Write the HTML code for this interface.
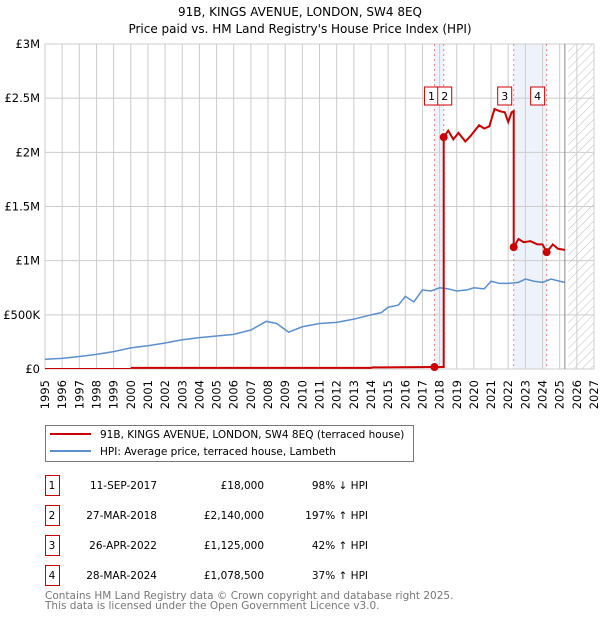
<!DOCTYPE html>
<html><head><meta charset="utf-8"><style>
body{margin:0;background:#fff;font-family:"DejaVu Sans","Liberation Sans",sans-serif;}
svg text{font-family:"DejaVu Sans","Liberation Sans",sans-serif;}
</style></head><body>
<svg id="c" width="600" height="620" xmlns="http://www.w3.org/2000/svg">
<defs><pattern id="hatch" width="6" height="6" patternUnits="userSpaceOnUse" patternTransform="rotate(45)"><line x1="0" y1="0" x2="0" y2="6" stroke="#bbb" stroke-width="1"/></pattern></defs>
<text x="300" y="16" text-anchor="middle" font-size="12">91B, KINGS AVENUE, LONDON, SW4 8EQ</text>
<text x="300" y="33" text-anchor="middle" font-size="12">Price paid vs. HM Land Registry's House Price Index (HPI)</text>
<g id="plot"></g>
<g>
<rect x="45.5" y="425.5" width="368" height="36" fill="#fff" stroke="#777"/>
<line x1="50" y1="434" x2="91" y2="434" stroke="#cc0000" stroke-width="2"/>
<text x="100" y="438" font-size="10.5">91B, KINGS AVENUE, LONDON, SW4 8EQ (terraced house)</text>
<line x1="50" y1="451" x2="91" y2="451" stroke="#5b8fd0" stroke-width="2"/>
<text x="100" y="455" font-size="10.5">HPI: Average price, terraced house, Lambeth</text>
</g>
<g id="table" font-size="10.5"></g>
<text x="45" y="599" font-size="10.5" fill="#777">Contains HM Land Registry data © Crown copyright and database right 2025.</text>
<text x="45" y="609" font-size="10.5" fill="#777">This data is licensed under the Open Government Licence v3.0.</text>
</svg>
<script>
const yearTicks=[1995,1996,1997,1998,1999,2000,2001,2002,2003,2004,2005,2006,2007,2008,2009,2010,2011,2012,2013,2014,2015,2016,2017,2018,2019,2020,2021,2022,2023,2024,2025,2026,2027];
const valueTicks=[0,500000,1000000,1500000,2000000,2500000,3000000];
const valueLabels=["£0","£500K","£1M","£1.5M","£2M","£2.5M","£3M"];
const hpiYears=[1995,1996,1997,1998,1999,2000,2001,2002,2003,2004,2005,2006,2007,2007.9,2008.5,2009.2,2010,2011,2012,2013,2014,2014.6,2015,2015.6,2016,2016.5,2017,2017.5,2018,2018.5,2019,2019.6,2020,2020.6,2021,2021.5,2022,2022.6,2023,2023.5,2024,2024.5,2025,2025.3];
const hpiValues=[90000,98000,115000,135000,160000,195000,215000,240000,270000,290000,305000,320000,360000,440000,420000,340000,390000,420000,430000,460000,500000,520000,570000,590000,670000,620000,730000,720000,750000,740000,720000,730000,750000,740000,810000,790000,790000,800000,830000,810000,800000,830000,810000,800000];
const propYears=[2000,2014,2014.1,2017.7,2018.24,2018.24,2018.5,2018.8,2019.1,2019.5,2019.8,2020.3,2020.6,2020.9,2021.2,2021.5,2021.8,2022.0,2022.2,2022.32,2022.32,2022.6,2022.9,2023.3,2023.7,2024.0,2024.24,2024.6,2024.9,2025.3];
const propValues=[10000,10000,15000,18000,18000,2140000,2200000,2120000,2180000,2100000,2150000,2250000,2220000,2240000,2400000,2380000,2370000,2280000,2370000,2380000,1125000,1200000,1170000,1180000,1150000,1150000,1078500,1150000,1110000,1100000];
const saleYears=[2017.70,2018.24,2022.32,2024.24];
const saleValues=[18000,2140000,1125000,1078500];
const saleLabels=["1","2","3","4"];
const saleDates=["11-SEP-2017","27-MAR-2018","26-APR-2022","28-MAR-2024"];
const salePrices=["£18,000","£2,140,000","£1,125,000","£1,078,500"];
const saleHpi=["98% ↓ HPI","197% ↑ HPI","42% ↑ HPI","37% ↑ HPI"];

const NS="http://www.w3.org/2000/svg";
const X0=45,X1=594,Y0=369,Y1=44;
const xs=y=>X0+(y-1995)/(2027-1995)*(X1-X0);
const ys=v=>Y0-v/3000000*(Y0-Y1);
const plot=document.getElementById('plot');
function mk(tag,attrs,parent){const e=document.createElementNS(NS,tag);for(const k in attrs)e.setAttribute(k,attrs[k]);(parent||plot).appendChild(e);return e;}
let r=mk('rect',{x:xs(saleYears[0]),y:Y1,width:xs(saleYears[1])-xs(saleYears[0]),height:Y0-Y1,fill:'#eef3fb'});


r=mk('rect',{x:xs(saleYears[2]),y:Y1,width:xs(saleYears[3])-xs(saleYears[2]),height:Y0-Y1,fill:'#eef3fb'});


r=mk('rect',{x:xs(2025.5),y:Y1,width:X1-xs(2025.5),height:Y0-Y1,fill:'url(#hatch)'});


yearTicks.forEach(t=>{const x=xs(t);
 const g=mk('line',{x1:x,y1:Y1,x2:x,y2:Y0,stroke:'#ccc','stroke-width':1});
 
 
 const tx=mk('text',{x:0,y:0,'text-anchor':'end','font-size':11.5,transform:'translate('+(x+4)+',380) rotate(-90)'});tx.textContent=t;
 
 
});
valueTicks.forEach((v,i)=>{const y=ys(v);
 const g=mk('line',{x1:X0,y1:y,x2:X1,y2:y,stroke:'#ccc','stroke-width':1});
 
 
 const tx=mk('text',{x:40,y:y+4,'text-anchor':'end','font-size':11.5});tx.textContent=valueLabels[i];
 
 
});
let b=mk('rect',{x:X0,y:Y1,width:X1-X0,height:Y0-Y1,fill:'none',stroke:'#ccc'});


let dl=mk('line',{x1:xs(2025.3),y1:Y1,x2:xs(2025.3),y2:Y0,stroke:'#888','stroke-width':1});


saleYears.forEach((s,i)=>{const v=mk('line',{x1:xs(s),y1:Y1,x2:xs(s),y2:Y0,stroke:'#f08080','stroke-dasharray':'2,3','stroke-width':1});
 
 
});
let p=mk('line',{x1:xs(1995),y1:ys(5000),x2:xs(2000),y2:ys(5000),stroke:'#cc0000','stroke-width':1});


p=mk('polyline',{points:hpiYears.map((y,i)=>xs(y)+','+ys(hpiValues[i])).join(' '),fill:'none',stroke:'#5b8fd0','stroke-width':1.5});


p=mk('polyline',{points:propYears.map((y,i)=>xs(y)+','+ys(propValues[i])).join(' '),fill:'none',stroke:'#cc0000','stroke-width':2});


saleYears.forEach((s,i)=>{
 const d=mk('circle',{cx:xs(s),cy:ys(saleValues[i]),r:4,fill:'#cc0000'});
 
 
 const bx=xs(s)-(i==0?3:(i==1?-1:9));
 const g=mk('rect',{x:bx-7,y:87,width:14,height:18,fill:'#fff',stroke:'#cc0000'});
 
 
 const t=mk('text',{x:bx,y:100,'text-anchor':'middle','font-size':11});t.textContent=saleLabels[i];
 
 
});
const tb=document.getElementById('table');
const rowsY=[484,514,544,574];
saleLabels.forEach((l,i)=>{const y=rowsY[i];
 const g=mk('rect',{x:45.5,y:y-8.5,width:14,height:20,fill:'#fff',stroke:'#cc0000'},tb);
 
 
 const cells=[[52,l,'middle'],[157,saleDates[i],'end'],[264,salePrices[i],'end'],[368,saleHpi[i],'end']];
 cells.forEach((c,j)=>{const t=mk('text',{x:c[0],y:y+5,'text-anchor':c[2]},tb);t.textContent=c[1];
  
  });
});
</script>
</body></html>
